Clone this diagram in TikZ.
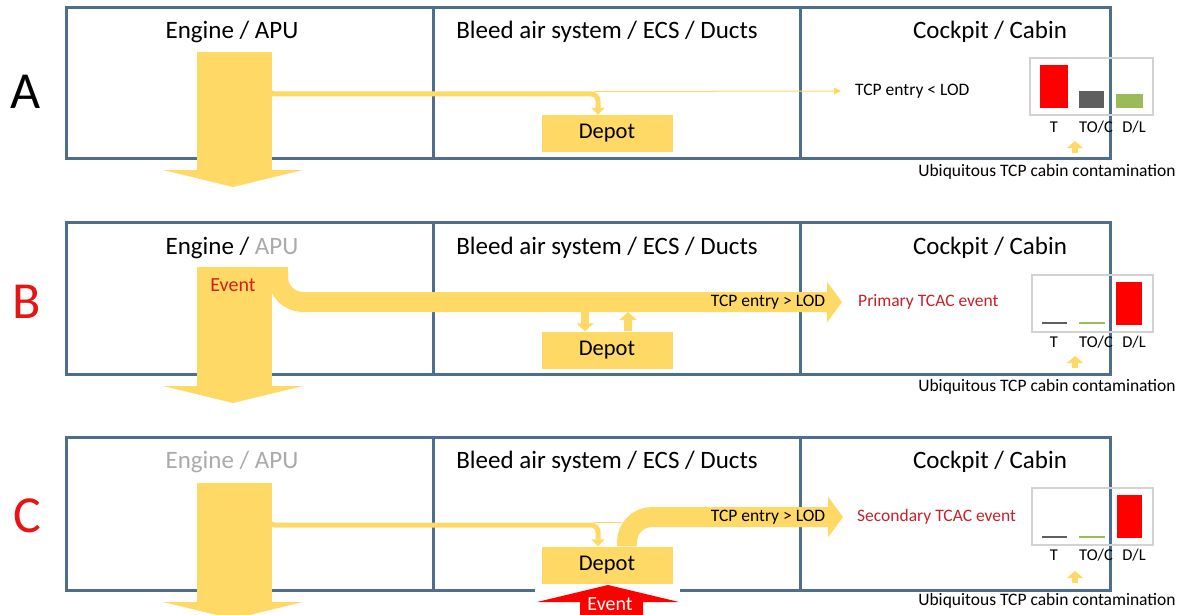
\documentclass[tikz,border=0pt]{standalone}
\usepackage{fontspec}
\setmainfont{Carlito}
\usetikzlibrary{arrows.meta}
\definecolor{flow}{RGB}{255,217,102}
\definecolor{frame}{RGB}{78,110,142}
\definecolor{barred}{RGB}{255,0,0}
\definecolor{bargray}{RGB}{95,95,95}
\definecolor{bargreen}{RGB}{155,187,89}
\definecolor{lgray}{RGB}{170,170,170}
\definecolor{tred}{RGB}{200,32,40}
\definecolor{evtred}{RGB}{210,30,20}
\definecolor{letterred}{RGB}{232,20,20}
\definecolor{chartframe}{RGB}{210,210,210}
\begin{document}
\begin{tikzpicture}[x=1pt,y=-1pt,
  frameline/.style={draw=frame,line width=3pt},
  title/.style={inner sep=0pt,font=\fontsize{25}{30}\selectfont},
  letter/.style={inner sep=0pt,font=\fontsize{52}{60}\selectfont},
  depotbox/.style={fill=flow,minimum width=131pt,minimum height=37pt,inner sep=0pt,font=\fontsize{22.5}{26}\selectfont},
  lbl/.style={inner sep=0pt,font=\fontsize{17.5}{21}\selectfont},
  axlbl/.style={inner sep=0pt,font=\fontsize{16.5}{20}\selectfont},
  thinflow/.style={draw=flow,line width=5pt,rounded corners=7pt,-{Triangle[width=13pt,length=7pt]}},
  hairflow/.style={draw=flow,line width=1pt},
  thickflow/.style={draw=flow,line width=20pt,rounded corners=25pt,-{Triangle[width=40pt,length=15pt]}},
  smallflow/.style={draw=flow,line width=8pt,-{Triangle[width=17pt,length=8pt]}},
  upflow/.style={draw=flow,line width=6pt,-{Triangle[width=16pt,length=7pt]}},
  chartbox/.style={draw=chartframe,line width=1.2pt},
]
\useasboundingbox (0,0) rectangle (1185,615);
\clip (0,0) rectangle (1185,615);

% ---------- frames ----------
\draw[frameline] (66,8) rectangle (1110,158);
\draw[frameline] (433,8) -- (433,158) (800,8) -- (800,158);
\draw[frameline] (66,222) rectangle (1110,374);
\draw[frameline] (433,222) -- (433,374) (800,222) -- (800,374);
\draw[frameline] (535,590) -- (66,590) -- (66,437) -- (1110,437) -- (1110,590) -- (680,590);
\draw[frameline] (433,437) -- (433,590) (800,437) -- (800,590);

% ---------- letters ----------
\node[letter] (lA) at (26,92) {A};
\node[letter,text=letterred] (lB) at (27,302) {B};
\node[letter,text=letterred] (lC) at (27,516) {C};

% ---------- titles ----------
\node[title] (tA1) at (232,32) {Engine / APU};
\node[title] (tA2) at (607,32) {Bleed air system / ECS / Ducts};
\node[title] (tA3) at (990,32) {Cockpit / Cabin};
\node[title] (tB1) at (232,248) {Engine / \textcolor{lgray}{APU}};
\node[title] (tB2) at (607,248) {Bleed air system / ECS / Ducts};
\node[title] (tB3) at (990,248) {Cockpit / Cabin};
\node[title,text=lgray] (tC1) at (232,462) {Engine / APU};
\node[title] (tC2) at (607,462) {Bleed air system / ECS / Ducts};
\node[title] (tC3) at (990,462) {Cockpit / Cabin};

% ---------- engine arrows ----------
\fill[flow] (197,52) rectangle (272,170);
\fill[flow] (163,170) -- (303,170) -- (233,187) -- cycle;
\fill[flow] (197,267) rectangle (272,386);
\fill[flow] (163,386) -- (303,386) -- (233,403) -- cycle;
\fill[flow] (197,483) rectangle (272,602);
\fill[flow] (163,602) -- (303,602) -- (233,619) -- cycle;

% ---------- panel A ----------
\node[depotbox] (depotA) at (607,133.5) {Depot};
\coordinate (aTurn) at (598,94);
\draw[thinflow] (268,78) |- (aTurn) -- ([xshift=-9pt]depotA.north);
\node[lbl,anchor=west] (tcpA) at (855,91) {TCP entry < LOD};
\draw[hairflow,-{Triangle[width=7pt,length=7pt]}] (594,91.5) -- ([xshift=-14pt]tcpA.west);

% ---------- panel B ----------
\node[depotbox] (depotB) at (607,350) {Depot};
\node[lbl,anchor=west,text=tred] (primB) at (858,302) {Primary TCAC event};
\draw[thickflow] (278,267) |- ([xshift=-16pt]primB.west);
\node[lbl] (tcpB) at (768,302) {TCP entry > LOD};
\node[inner sep=0pt,text=evtred,font=\fontsize{20}{24}\selectfont] (evB) at (233,285) {Event};
\draw[smallflow] (585,312) -- ([xshift=-22pt]depotB.north);
\draw[smallflow] ([xshift=21pt]depotB.north) -- (628,312);

% ---------- panel C ----------
\node[depotbox] (depotC) at (607,565) {Depot};
\node[lbl,anchor=west,text=tred] (secC) at (857,517) {Secondary TCAC event};
\coordinate (cTurn) at (598,525);
\draw[thinflow] (268,505) |- (cTurn) -- ([xshift=-9pt]depotC.north);
\draw[hairflow] (594,522.5) -- (622,522.5);
\draw[thickflow] ([xshift=20pt]depotC.north) |- ([xshift=-14pt]secC.west);
\node[lbl] (tcpC) at (768,517) {TCP entry > LOD};
\fill[barred] (580,620) -- (580,602) -- (537,602) -- (608,585) -- (679,602) -- (643,602) -- (643,620) -- cycle;
\node[inner sep=0pt,text=white,font=\fontsize{20}{24}\selectfont] (evC) at (610,604) {Event};

% ---------- chart A ----------
\draw[chartbox] (1030,58) rectangle (1153,115);
\fill[barred] (1040,65) rectangle (1068,108);
\fill[bargray] (1079,91) rectangle (1104,108);
\fill[bargreen] (1116,94) rectangle (1143,108);
\node[axlbl] (xA1) at (1054,127) {T};
\node[axlbl] (xA2) at (1096,127) {TO/C};
\node[axlbl] (xA3) at (1134,127) {D/L};
\node[lbl] (ubA) at (1047,172) {Ubiquitous TCP cabin contamination};
\draw[upflow] (1075,153) -- (1075,141);

% ---------- chart B ----------
\draw[chartbox] (1032,275) rectangle (1153,332);
\draw[bargray,line width=1.5pt] (1042,323) -- (1067,323);
\draw[bargreen,line width=1.5pt] (1079,323) -- (1105,323);
\fill[barred] (1116,282) rectangle (1142,325);
\node[axlbl] (xB1) at (1054,342) {T};
\node[axlbl] (xB2) at (1096,342) {TO/C};
\node[axlbl] (xB3) at (1134,342) {D/L};
\node[lbl] (ubB) at (1047,387) {Ubiquitous TCP cabin contamination};
\draw[upflow] (1075,368) -- (1075,356);

% ---------- chart C ----------
\draw[chartbox] (1032,488) rectangle (1153,545);
\draw[bargray,line width=1.5pt] (1042,537) -- (1067,537);
\draw[bargreen,line width=1.5pt] (1079,537) -- (1105,537);
\fill[barred] (1117,495) rectangle (1142,538);
\node[axlbl] (xC1) at (1054,555) {T};
\node[axlbl] (xC2) at (1096,555) {TO/C};
\node[axlbl] (xC3) at (1134,555) {D/L};
\node[lbl] (ubC) at (1047,601) {Ubiquitous TCP cabin contamination};
\draw[upflow] (1075,583) -- (1075,571);
\end{tikzpicture}
\end{document}
